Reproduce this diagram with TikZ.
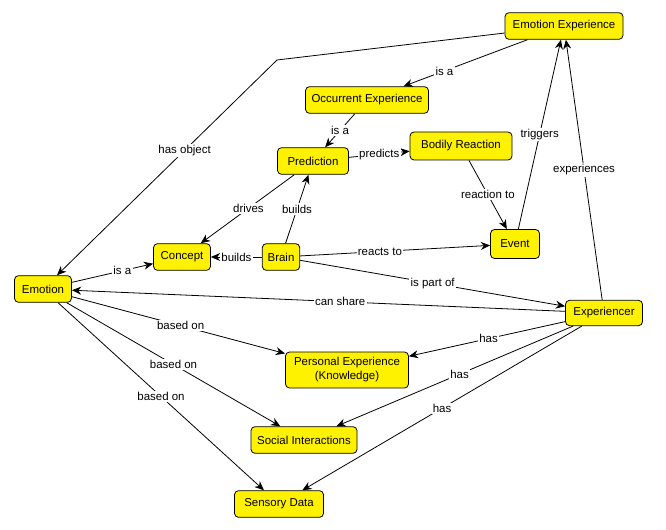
\documentclass[tikz,border=0pt]{standalone}
\usepackage{fontspec}
\setmainfont{Liberation Sans}
\usetikzlibrary{arrows.meta}

\begin{document}
\begin{tikzpicture} [x=0.75pt, y=-0.75pt,
	concept/.style={draw, fill=yellow, rounded corners=3pt, line width=0.6pt, inner xsep=4pt, inner ysep=0pt, minimum height=20pt, align=center, font=\fontsize{8.6}{10.5}\selectfont},
	link/.style={line width=0.6pt, -{Stealth[length=7pt, width=6pt]}},
	lbl/.style={fill=white, inner sep=1pt, font=\fontsize{8.6}{10}\selectfont}]
	\useasboundingbox (0,0) rectangle (666,530);
	% concepts
	\node[concept, minimum width=88.5pt] (emoexp) at (564,26) {Emotion Experience};
	\node[concept, minimum width=92.25pt] (occexp) at (367,100) {Occurrent Experience};
	\node[concept, minimum width=53.25pt] (predict) at (313,161) {Prediction};
	\node[concept, minimum width=76.5pt, minimum height=21pt] (bodily) at (461,146) {Bodily Reaction};
	\node[concept, minimum width=42.75pt] (concept) at (182,257) {Concept};
	\node[concept, minimum width=27.75pt] (brain) at (281,257) {Brain};
	\node[concept, minimum width=36.75pt, minimum height=21.75pt] (event) at (515,244) {Event};
	\node[concept, minimum width=42.75pt] (emotion) at (43,289) {Emotion};
	\node[concept, minimum width=57.75pt, minimum height=19pt] (exper) at (604,313) {Experiencer};
	\node[concept, minimum width=92.25pt, minimum height=27pt] (personal) at (347,370) {Personal Experience\\(Knowledge)};
	\node[concept, minimum width=79.5pt] (social) at (304,440) {Social Interactions};
	\node[concept, minimum width=66.75pt] (sensory) at (279,504) {Sensory Data};
	\coordinate (bend) at (277,60);
	% links
	\draw[link] (emoexp) -- (bend) -- node[lbl, pos=0.42] {has object} (emotion);
	\draw[link] (emoexp) -- node[lbl, pos=0.67] {is a} (occexp);
	\draw[link] (occexp) -- node[lbl] {is a} (predict);
	\draw[link] (predict) -- node[lbl] {predicts} (bodily);
	\draw[link] (bodily) -- node[lbl] {reaction to} (event);
	\draw[link] (event) -- node[lbl] {triggers} (emoexp);
	\draw[link] (exper) -- node[lbl] {experiences} (emoexp);
	\draw[link] (predict) -- node[lbl, pos=0.49] {drives} (concept);
	\draw[link] (brain) -- node[lbl] {builds} (predict);
	\draw[link] (brain) -- node[lbl] {builds} (concept);
	\draw[link] (brain) -- node[lbl, pos=0.42] {reacts to} (event);
	\draw[link] (brain) -- node[lbl] {is part of} (exper);
	\draw[link] (emotion) -- node[lbl, pos=0.62] {is a} (concept);
	\draw[link] (exper) -- node[lbl, pos=0.456] {can share} (emotion);
	\draw[link] (emotion) -- node[lbl, pos=0.51] {based on} (personal);
	\draw[link] (emotion) -- node[lbl] {based on} (social);
	\draw[link] (emotion) -- node[lbl] {based on} (sensory);
	\draw[link] (exper) -- node[lbl, pos=0.49] {has} (personal);
	\draw[link] (exper) -- node[lbl, pos=0.48] {has} (social);
	\draw[link] (exper) -- node[lbl] {has} (sensory);
\end{tikzpicture}
\end{document}
